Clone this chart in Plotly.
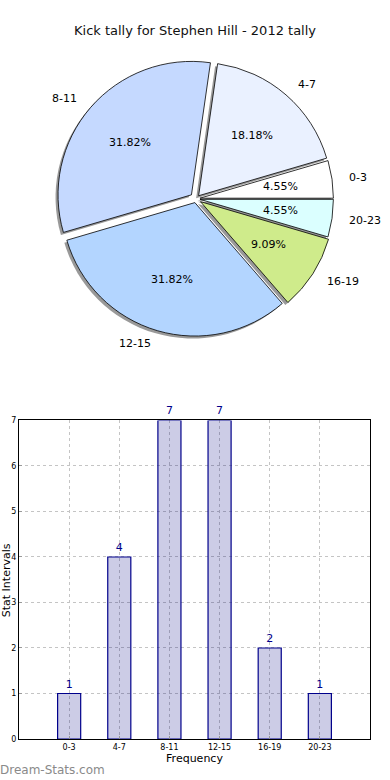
import numpy as np
import plotly.graph_objects as go

# ---- data ----
categories = ["0-3", "4-7", "8-11", "12-15", "16-19", "20-23"]
counts = [1, 4, 7, 7, 2, 1]
pie_colors = ["#ffffff", "#eaf1ff", "#c5d9ff", "#b3d5ff", "#cfeb8b", "#dbffff"]
pulls = [0.03, 0.03, 0.045, 0.03, 0.04, 0.03]
title_text = "Kick tally for Stephen Hill - 2012 tally"
y_ticks = [0, 1, 2, 3, 4, 5, 6, 7]

W, H = 390, 780
FONT = "DejaVu Sans"

# vertical calibration of the captured page (image px -> layout px)
OFF, SCL = 4 * 780 / 788, 780 / 788


def ly(img_y):
    return (img_y - OFF) / SCL


def px(x):
    return x / W


def py_lay(lay_y):
    return 1 - lay_y / H


def py(img_y):
    return py_lay(ly(img_y))


# pie geometry (layout pixels)
cx, cy, r = 196.0, ly(199.0), 135.0
maxpull = max(pulls)
half = r * (1 + maxpull)

vals = np.array(counts, dtype=float)
total = vals.sum()
# matplotlib starts the first wedge at 3 o'clock going counterclockwise;
# plotly's counterclockwise rotation marks the end of the first slice
rot = 90 - 360 * vals[0] / total

fig = go.Figure()

# shadow pie (offset down-left)
sdx, sdy = -2.5, 2.5
fig.add_trace(go.Pie(
    labels=categories, values=counts, sort=False, direction="counterclockwise",
    rotation=rot, pull=pulls, textinfo="none", hoverinfo="skip", showlegend=False,
    marker=dict(colors=["rgba(70,70,70,0.55)"] * len(counts), line=dict(width=0)),
    domain=dict(x=[px(cx + sdx - half), px(cx + sdx + half)],
                y=[py_lay(cy + sdy + half), py_lay(cy + sdy - half)]),
))
# main pie
fig.add_trace(go.Pie(
    labels=categories, values=counts, sort=False, direction="counterclockwise",
    rotation=rot, pull=pulls, textinfo="none", showlegend=False,
    marker=dict(colors=pie_colors, line=dict(color="#000000", width=0.8)),
    domain=dict(x=[px(cx - half), px(cx + half)],
                y=[py_lay(cy + half), py_lay(cy - half)]),
))

# pie text annotations (matplotlib-style positions)
cum = np.cumsum(vals)
mids = 2 * np.pi * (cum - vals / 2) / total
annotations = []
for i, lab in enumerate(categories):
    a = mids[i]
    ox = cx + pulls[i] * r * np.cos(a)
    oy = cy - pulls[i] * r * np.sin(a)
    pct = 100 * vals[i] / total
    annotations.append(dict(
        x=px(ox + 0.6 * r * np.cos(a)), y=py_lay(oy - 0.6 * r * np.sin(a)),
        xref="paper", yref="paper", text=f"{pct:.2f}%", showarrow=False,
        xanchor="center", yanchor="middle",
        font=dict(family=FONT, size=11, color="#000000")))
    annotations.append(dict(
        x=px(ox + 1.1 * r * np.cos(a)), y=py_lay(oy - 1.1 * r * np.sin(a)),
        xref="paper", yref="paper", text=lab, showarrow=False,
        xanchor="left" if np.cos(a) > 0 else "right", yanchor="middle",
        font=dict(family=FONT, size=11, color="#000000")))

# title
annotations.append(dict(x=px(195), y=py(30), xref="paper", yref="paper",
                        text=title_text, showarrow=False, xanchor="center",
                        yanchor="middle",
                        font=dict(family=FONT, size=13, color="#111111")))

# bar chart
fig.add_trace(go.Bar(
    x=categories, y=counts, width=0.46,
    marker=dict(color="rgba(0,0,128,0.2)", line=dict(color="#00008b", width=1.2)),
    text=[str(c) for c in counts], textposition="outside",
    textfont=dict(family=FONT, size=11, color="#00008b"),
    cliponaxis=False, showlegend=False, xaxis="x", yaxis="y",
))

annotations.append(dict(x=px(6), y=py(581), xref="paper", yref="paper",
                        text="Stat Intervals", textangle=-90, showarrow=False,
                        xanchor="center", yanchor="middle",
                        font=dict(family=FONT, size=11, color="#000000")))
annotations.append(dict(x=px(52), y=py(771), xref="paper", yref="paper",
                        text="Dream-Stats.com", showarrow=False,
                        xanchor="center", yanchor="middle",
                        font=dict(family=FONT, size=12, color="#8a8a8a")))

fig.update_layout(
    width=W, height=H,
    margin=dict(l=0, r=0, t=0, b=0),
    paper_bgcolor="white", plot_bgcolor="white",
    font=dict(family=FONT, color="#000000"),
    annotations=annotations,
    xaxis=dict(domain=[px(19), px(370)], anchor="y", type="category",
               range=[-1, 6], showline=True, linecolor="#000000", linewidth=1.2,
               mirror=True, showgrid=True, gridcolor="#c4c4c4", griddash="dot",
               gridwidth=1, ticks="inside", ticklen=3, tickcolor="#999999",
               tickfont=dict(family=FONT, size=8, color="#000000"),
               title=dict(text="Frequency", standoff=3,
                          font=dict(family=FONT, size=11, color="#000000")),
               zeroline=False, fixedrange=True),
    yaxis=dict(domain=[py(740), py(421)], anchor="x", range=[0, 7],
               tickvals=y_ticks, showline=True, linecolor="#000000", linewidth=1.2,
               mirror=True, showgrid=True, gridcolor="#c4c4c4", griddash="dot",
               gridwidth=1, ticks="inside", ticklen=3, tickcolor="#999999",
               tickfont=dict(family=FONT, size=8, color="#000000"),
               zeroline=False, fixedrange=True),
    bargap=0.5,
)

fig.write_html(
    "out.html",
    config={"displayModeBar": False},
    post_script="document.body.style.margin='0';document.body.style.overflow='hidden';",
)
